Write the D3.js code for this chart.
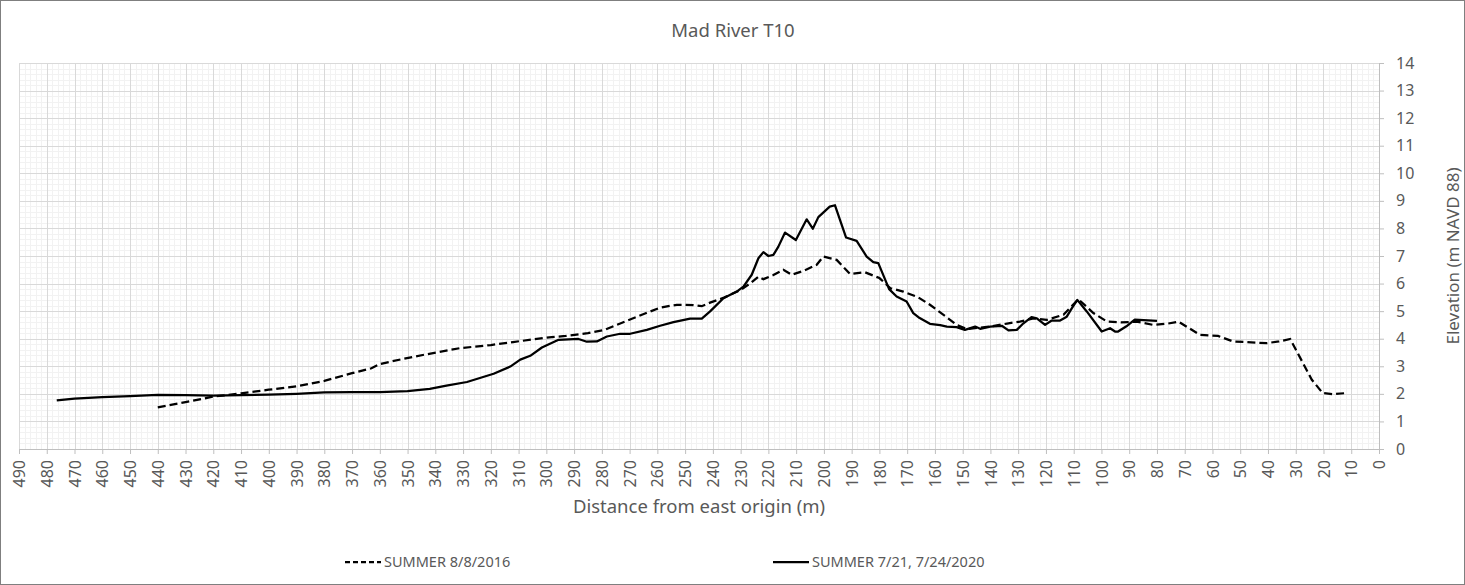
<!DOCTYPE html>
<html>
<head>
<meta charset="utf-8">
<script src="https://cdn.jsdelivr.net/npm/d3@7"></script>
<style>
  body { margin: 0; background: #fff; }
  svg { display: block; }
</style>
</head>
<body>
<div id="chart"></div>
<script>
(function () {

// survey 8/8/2016 (dashed)
var dist2016 = [440, 430, 420, 410, 400, 390, 380, 370, 363, 360, 352, 344, 331, 320, 312, 299, 293, 285, 279, 271,
  264, 259, 253, 247, 244, 241, 236, 230, 226.5, 223.6, 221.8, 218.2, 214.6, 211.6, 207.4, 202.6, 200.2, 195.4, 190.6, 185.2,
  180, 176, 171.4, 166, 161.8, 156, 152.2, 148.5, 144, 140, 134, 129.4, 124.5, 119.7, 113.7, 108.3, 102.9, 98, 93, 87.3,
  81.3, 76, 72.3, 64.5, 58, 52.6, 40.5, 36, 32, 24.2, 20.3, 16.6, 11.6]
var elev2016 = [1.51, 1.7, 1.9, 2.02, 2.15, 2.27, 2.47, 2.75, 2.93, 3.08, 3.26, 3.42, 3.66, 3.77, 3.88, 4.05, 4.1, 4.2, 4.32, 4.65,
  4.93, 5.13, 5.23, 5.22, 5.18, 5.31, 5.49, 5.77, 6.01, 6.25, 6.16, 6.31, 6.5, 6.32, 6.46, 6.68, 6.98, 6.86, 6.35, 6.41,
  6.2, 5.83, 5.71, 5.5, 5.23, 4.8, 4.5, 4.35, 4.4, 4.44, 4.55, 4.62, 4.74, 4.68, 4.87, 5.43, 4.93, 4.62, 4.59, 4.62,
  4.5, 4.55, 4.62, 4.14, 4.1, 3.9, 3.84, 3.9, 3.99, 2.51, 2.03, 1.99, 2.03]

// survey 7/21, 7/24/2020 (solid)
var dist2020 = [476.4, 470, 460, 450, 440, 430, 420, 410, 400, 390, 380, 370, 360, 350, 342, 336, 328.6, 319, 313, 309.4,
  305.8, 301.6, 295.6, 288.4, 285.4, 281.8, 278.2, 273.4, 269.8, 263.8, 259, 254.2, 248.2, 244, 241, 236.2, 231.4, 229, 226, 223.6,
  221.8, 220, 218.2, 216.4, 214, 210.1, 206.2, 204, 202, 197.9, 196, 192, 188.2, 184.6, 182.2, 180.4, 176.5, 173.8, 170.2, 167.8,
  165.5, 161.8, 158.1, 155.7, 152.2, 149.2, 145.5, 143.7, 140.1, 135.9, 133.5, 130.5, 128.1, 125.2, 123.3, 120.3, 117.9, 114.9, 112.5, 110.7,
  108.7, 105.3, 99.9, 96.9, 95.1, 94, 91, 88, 80]
var elev2020 = [1.76, 1.83, 1.88, 1.92, 1.96, 1.95, 1.94, 1.95, 1.97, 2.0, 2.05, 2.06, 2.06, 2.1, 2.18, 2.3, 2.43, 2.73, 2.99, 3.24,
  3.38, 3.68, 3.96, 3.99, 3.89, 3.9, 4.08, 4.18, 4.18, 4.32, 4.47, 4.6, 4.73, 4.73, 4.99, 5.47, 5.71, 5.89, 6.32, 6.92,
  7.14, 7.0, 7.04, 7.34, 7.85, 7.58, 8.33, 7.99, 8.41, 8.79, 8.84, 7.67, 7.55, 6.98, 6.78, 6.74, 5.8, 5.53, 5.35, 4.93,
  4.75, 4.54, 4.49, 4.44, 4.42, 4.32, 4.44, 4.36, 4.44, 4.47, 4.3, 4.32, 4.56, 4.78, 4.74, 4.5, 4.66, 4.66, 4.8, 5.1,
  5.41, 4.99, 4.26, 4.38, 4.26, 4.26, 4.45, 4.69, 4.65]

var seriesNames = ['SUMMER 8/8/2016', 'SUMMER 7/21, 7/24/2020']
var xTicks = d3.range(0, 491, 10)
var yTicks = d3.range(0, 15, 1)

var W = 1465, H = 585
var margin = { top: 63, right: 86, bottom: 136, left: 19 }
var width = W - margin.left - margin.right,
    height = H - margin.top - margin.bottom

var font = "'Noto Sans', 'Liberation Sans', sans-serif"
var textColor = '#595959'

var svg = d3.select('#chart').append('svg')
    .attr('width', W)
    .attr('height', H)

// chart border
svg.append('rect')
    .attr('x', 0.5).attr('y', 0.5)
    .attr('width', W - 1).attr('height', H - 1)
    .attr('fill', '#fff')
    .attr('stroke', '#7f7f7f')

var g = svg.append('g')
    .attr('transform', 'translate(' + margin.left + ',' + margin.top + ')')

var xScale = d3.scaleLinear()
    .domain([490, 0])
    .range([0, width])

var yScale = d3.scaleLinear()
    .domain([0, 14])
    .range([height, 0])

// minor grid
g.append('g').selectAll('line')
    .data(d3.range(0, 491, 2))
    .enter().append('line')
    .attr('x1', function (d) { return Math.round(xScale(d)) + 0.5 })
    .attr('x2', function (d) { return Math.round(xScale(d)) + 0.5 })
    .attr('y1', 0).attr('y2', height)
    .attr('stroke', '#f2f2f2')

g.append('g').selectAll('line')
    .data(d3.range(0, 14.01, 0.2))
    .enter().append('line')
    .attr('y1', function (d) { return Math.round(yScale(d)) + 0.5 })
    .attr('y2', function (d) { return Math.round(yScale(d)) + 0.5 })
    .attr('x1', 0).attr('x2', width)
    .attr('stroke', '#f2f2f2')

// major grid
g.append('g').selectAll('line')
    .data(xTicks)
    .enter().append('line')
    .attr('x1', function (d) { return Math.round(xScale(d)) + 0.5 })
    .attr('x2', function (d) { return Math.round(xScale(d)) + 0.5 })
    .attr('y1', 0).attr('y2', height)
    .attr('stroke', '#d9d9d9')

g.append('g').selectAll('line')
    .data(yTicks)
    .enter().append('line')
    .attr('y1', function (d) { return Math.round(yScale(d)) + 0.5 })
    .attr('y2', function (d) { return Math.round(yScale(d)) + 0.5 })
    .attr('x1', 0).attr('x2', width)
    .attr('stroke', '#d9d9d9')

// x axis at bottom
var xAxis = d3.axisBottom(xScale)
    .tickValues(xTicks)
    .tickSize(5)
    .tickFormat(d3.format('d'))

var xg = g.append('g')
    .attr('transform', 'translate(0,' + height + ')')
    .call(xAxis)
xg.selectAll('.domain, .tick line').attr('stroke', '#bfbfbf')
xg.selectAll('text')
    .attr('transform', 'rotate(-90)')
    .attr('text-anchor', 'end')
    .attr('x', -11)
    .attr('y', 0)
    .attr('dy', '0.35em')
    .attr('fill', textColor)
    .style('font-family', font)
    .style('font-size', '16px')

// y axis on the right
var yAxis = d3.axisRight(yScale)
    .tickValues(yTicks)
    .tickSize(5)
    .tickPadding(12)

var yg = g.append('g')
    .attr('transform', 'translate(' + width + ',0)')
    .call(yAxis)
yg.selectAll('.domain, .tick line').attr('stroke', '#bfbfbf')
yg.selectAll('text')
    .attr('fill', textColor)
    .style('font-family', font)
    .style('font-size', '16px')

// lines
var line = d3.line()
    .x(function (d) { return xScale(d[0]) })
    .y(function (d) { return yScale(d[1]) })

var pts2016 = dist2016.map(function (d, i) { return [d, elev2016[i]] })
var pts2020 = dist2020.map(function (d, i) { return [d, elev2020[i]] })

g.append('path')
    .datum(pts2016)
    .attr('d', line)
    .attr('fill', 'none')
    .attr('stroke', '#000')
    .attr('stroke-width', 2.25)
    .attr('stroke-dasharray', '8,4')

g.append('path')
    .datum(pts2020)
    .attr('d', line)
    .attr('fill', 'none')
    .attr('stroke', '#000')
    .attr('stroke-width', 2.25)
    .attr('stroke-linejoin', 'round')

// title and axis titles
svg.append('text')
    .text('Mad River T10')
    .attr('x', 733)
    .attr('y', 37)
    .attr('text-anchor', 'middle')
    .attr('fill', textColor)
    .style('font-family', font)
    .style('font-size', '18.5px')

svg.append('text')
    .text('Distance from east origin (m)')
    .attr('x', margin.left + width / 2)
    .attr('y', 513)
    .attr('text-anchor', 'middle')
    .attr('fill', textColor)
    .style('font-family', font)
    .style('font-size', '18.5px')

svg.append('text')
    .text('Elevation (m NAVD 88)')
    .attr('transform', 'translate(1459,' + (margin.top + height / 2) + ') rotate(-90)')
    .attr('text-anchor', 'middle')
    .attr('fill', textColor)
    .style('font-family', font)
    .style('font-size', '17px')

// legend
var legend = svg.append('g')
var legendX = [345, 773]
seriesNames.forEach(function (name, i) {
  legend.append('line')
      .attr('x1', legendX[i]).attr('x2', legendX[i] + 36)
      .attr('y1', 562).attr('y2', 562)
      .attr('stroke', '#000')
      .attr('stroke-width', 2.25)
      .attr('stroke-dasharray', i === 0 ? '5,3' : null)
  legend.append('text')
      .text(name)
      .attr('x', legendX[i] + 39)
      .attr('y', 567)
      .attr('fill', textColor)
      .style('font-family', font)
      .style('font-size', '14.5px')
})

})()
</script>
</body>
</html>
